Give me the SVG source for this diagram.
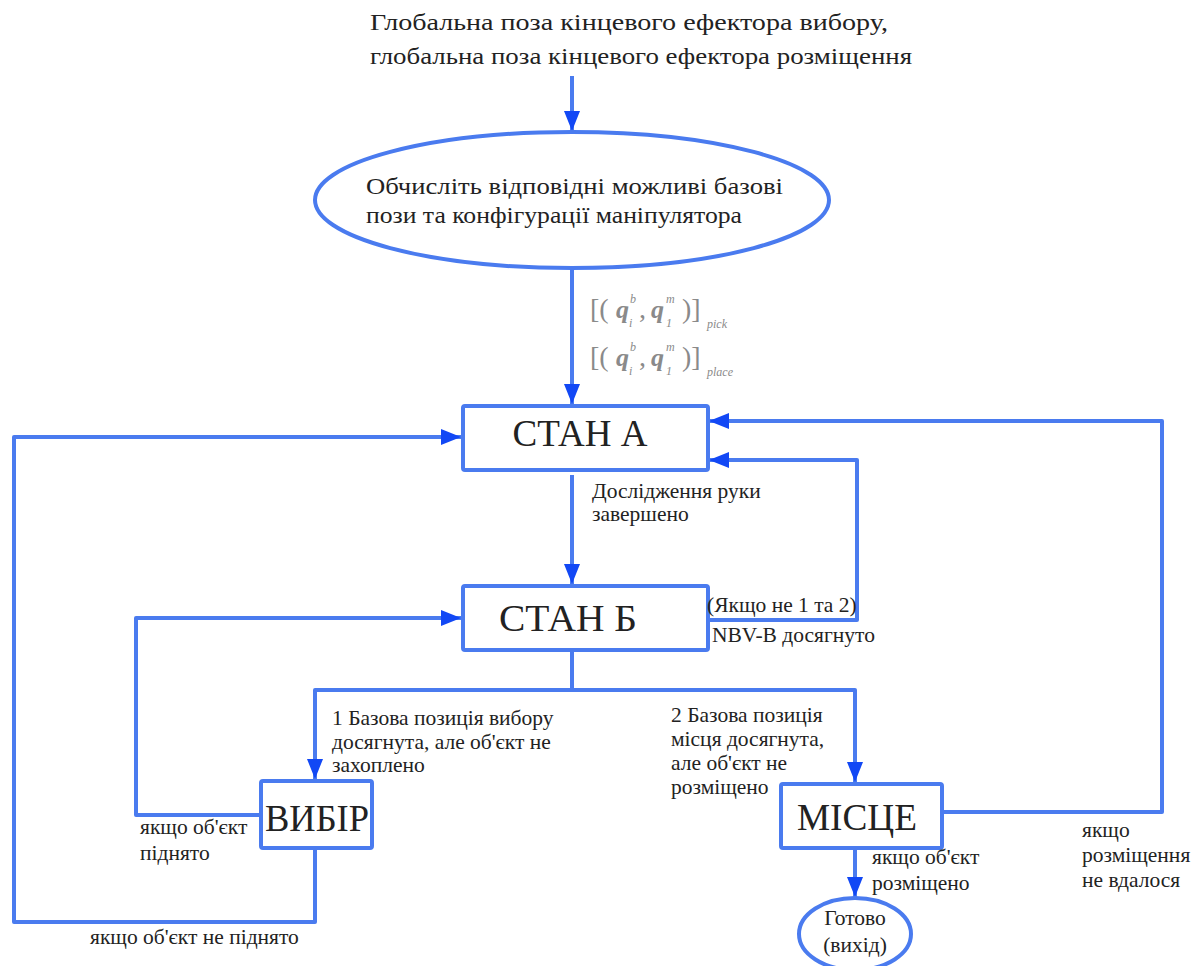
<svg xmlns="http://www.w3.org/2000/svg" width="1199" height="966" viewBox="0 0 1199 966">
  <style>
    .lbl { font-family: "Liberation Serif", "DejaVu Serif", serif; fill: #222; }
    .t24 { font-size: 24px; }
    .t21 { font-size: 21.5px; }
    .big { font-size: 37px; text-anchor: middle; }
    .node { fill: #fff; stroke: #4a7bef; stroke-width: 4; }
    .edge { fill: none; stroke: #4a7bef; stroke-width: 4; stroke-linejoin: round; }
    .math { font-family: "Liberation Serif", "DejaVu Serif", serif; fill: #8a8a8a; }
    .q { font-style: italic; font-weight: bold; font-size: 26px; }
    .br { font-size: 28px; }
    .sm { font-size: 12px; font-style: italic; }
  </style>
  <defs>
    <marker id="arrow" viewBox="0 0 20 16" refX="20" refY="8" markerWidth="20" markerHeight="16" markerUnits="userSpaceOnUse" orient="auto">
      <path d="M0,0 L20,8 L0,16 z" fill="#1248f5"/>
    </marker>
  </defs>
  <rect width="1199" height="966" fill="#fff"/>

  <!-- input description -->
  <g id="input">
    <text class="lbl t24" x="370" y="30" textLength="518" lengthAdjust="spacingAndGlyphs">Глобальна поза кінцевого ефектора вибору,</text>
    <text class="lbl t24" x="370" y="64" textLength="542" lengthAdjust="spacingAndGlyphs">глобальна поза кінцевого ефектора розміщення</text>
  </g>

  <!-- connectors -->
  <g id="connectors">
    <path class="edge" d="M572,76 V131" marker-end="url(#arrow)"/>
    <path class="edge" d="M572,268 V404" marker-end="url(#arrow)"/>
    <path class="edge" d="M572,475 V584" marker-end="url(#arrow)"/>
    <!-- СТАН Б back to СТАН А when neither 1 nor 2 -->
    <path class="edge" d="M708,620 H857 V460 H709" marker-end="url(#arrow)"/>
    <!-- СТАН Б branches -->
    <path class="edge" d="M572,652 V690 H315 V779" marker-end="url(#arrow)"/>
    <path class="edge" d="M572,690 H855 V782" marker-end="url(#arrow)"/>
    <!-- ВИБІР back to СТАН Б -->
    <path class="edge" d="M260,815 H136 V618 H461" marker-end="url(#arrow)"/>
    <!-- ВИБІР back to СТАН А -->
    <path class="edge" d="M315,849 V922 H14 V437 H461" marker-end="url(#arrow)"/>
    <!-- МІСЦЕ back to СТАН А -->
    <path class="edge" d="M943,812 H1162 V421 H709" marker-end="url(#arrow)"/>
    <!-- МІСЦЕ to exit -->
    <path class="edge" d="M855,850 V897" marker-end="url(#arrow)"/>
  </g>

  <!-- compute node -->
  <g id="compute">
    <ellipse class="node" cx="572" cy="200" rx="257" ry="68"/>
    <text class="lbl t24" x="366" y="194" textLength="417" lengthAdjust="spacingAndGlyphs">Обчисліть відповідні можливі базові</text>
    <text class="lbl t24" x="366" y="223" textLength="376" lengthAdjust="spacingAndGlyphs">пози та конфігурації маніпулятора</text>
  </g>

  <!-- configuration sets -->
  <g id="config-sets">
    <text class="math br" x="590" y="318">[(</text>
    <text class="math q" x="616" y="318">q</text>
    <text class="math sm" x="630" y="303">b</text>
    <text class="math sm" x="629" y="327">i</text>
    <text class="math br" x="639" y="318">,</text>
    <text class="math q" x="651" y="318">q</text>
    <text class="math sm" x="666" y="303">m</text>
    <text class="math sm" x="666" y="327">1</text>
    <text class="math br" x="682" y="318">)]</text>
    <text class="math sm" x="707" y="328">pick</text>

    <text class="math br" x="590" y="366">[(</text>
    <text class="math q" x="616" y="366">q</text>
    <text class="math sm" x="630" y="351">b</text>
    <text class="math sm" x="629" y="375">i</text>
    <text class="math br" x="639" y="366">,</text>
    <text class="math q" x="651" y="366">q</text>
    <text class="math sm" x="666" y="351">m</text>
    <text class="math sm" x="666" y="375">1</text>
    <text class="math br" x="682" y="366">)]</text>
    <text class="math sm" x="707" y="376">place</text>
  </g>

  <!-- state A -->
  <g id="state-a">
    <rect class="node" x="463" y="406" width="245" height="64" rx="2"/>
    <text class="lbl big" x="580" y="446">СТАН А</text>
  </g>

  <!-- state B -->
  <g id="state-b">
    <rect class="node" x="463" y="586" width="245" height="64" rx="2"/>
    <text class="lbl big" x="568" y="631" textLength="138" lengthAdjust="spacingAndGlyphs">СТАН Б</text>
  </g>

  <!-- pick -->
  <g id="pick">
    <rect class="node" x="261" y="781" width="111" height="67" rx="2"/>
    <text class="lbl big" x="317" y="831" textLength="104" lengthAdjust="spacingAndGlyphs">ВИБІР</text>
  </g>

  <!-- place -->
  <g id="place">
    <rect class="node" x="781" y="784" width="161" height="64" rx="2"/>
    <text class="lbl big" x="857" y="830" textLength="120" lengthAdjust="spacingAndGlyphs">МІСЦЕ</text>
  </g>

  <!-- exit -->
  <g id="done">
    <ellipse class="node" cx="855" cy="934" rx="56" ry="36"/>
    <text class="lbl t21" x="855" y="925" text-anchor="middle">Готово</text>
    <text class="lbl t21" x="855" y="952" text-anchor="middle">(вихід)</text>
  </g>

  <!-- edge labels -->
  <g id="edge-labels">
    <text class="lbl t21" x="592" y="498">Дослідження руки</text>
    <text class="lbl t21" x="592" y="521">завершено</text>
    <text class="lbl t21" x="707" y="612">(Якщо не 1 та 2)</text>
    <text class="lbl t21" x="712" y="642">NBV-B досягнуто</text>
    <text class="lbl t21" x="332" y="725">1 Базова позиція вибору</text>
    <text class="lbl t21" x="332" y="749">досягнута, але об'єкт не</text>
    <text class="lbl t21" x="332" y="772">захоплено</text>
    <text class="lbl t21" x="671" y="722">2 Базова позиція</text>
    <text class="lbl t21" x="671" y="746">місця досягнута,</text>
    <text class="lbl t21" x="671" y="770">але об'єкт не</text>
    <text class="lbl t21" x="671" y="794">розміщено</text>
    <text class="lbl t21" x="140" y="834">якщо об'єкт</text>
    <text class="lbl t21" x="140" y="860">піднято</text>
    <text class="lbl t21" x="90" y="944">якщо об'єкт не піднято</text>
    <text class="lbl t21" x="872" y="864">якщо об'єкт</text>
    <text class="lbl t21" x="872" y="890">розміщено</text>
    <text class="lbl t21" x="1082" y="837">якщо</text>
    <text class="lbl t21" x="1082" y="862">розміщення</text>
    <text class="lbl t21" x="1082" y="887">не вдалося</text>
  </g>
</svg>
